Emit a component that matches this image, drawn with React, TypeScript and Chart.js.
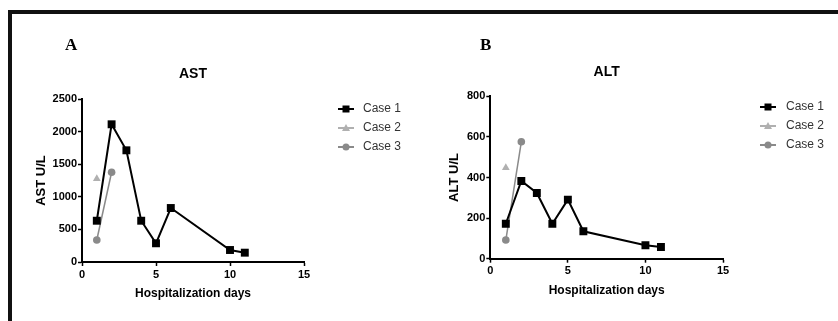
import React, { useEffect, useRef } from 'react';
import { Chart, registerables } from 'chart.js';

Chart.register(...registerables);

// ---- Data ----
const caseLabels = ['Case 1', 'Case 2', 'Case 3'];
const daysCase1 = [1, 2, 3, 4, 5, 6, 10, 11];
const daysCase2 = [1];
const daysCase3 = [1, 2];

const astCase1 = [633, 2112, 1713, 633, 287, 828, 184, 143];
const astCase2 = [1278];
const astCase3 = [337, 1376];

const altCase1 = [172, 383, 324, 172, 291, 135, 66, 58];
const altCase2 = [448];
const altCase3 = [92, 576];

const xTicks = [0, 5, 10, 15];
const astTicks = [0, 500, 1000, 1500, 2000, 2500];
const altTicks = [0, 200, 400, 600, 800];

const caseColors = ['#000000', '#b0b0b0', '#8a8a8a'];
const caseStyles = ['rect', 'triangle', 'circle'];

const FONT = "'Liberation Sans', Arial, sans-serif";

function drawMarker(ctx: CanvasRenderingContext2D, style: string, x: number, y: number, color: string) {
  ctx.fillStyle = color;
  ctx.beginPath();
  if (style === 'rect') {
    ctx.rect(x - 3.5, y - 3.5, 7, 7);
  } else if (style === 'triangle') {
    ctx.moveTo(x, y - 4);
    ctx.lineTo(x + 4, y + 3);
    ctx.lineTo(x - 4, y + 3);
    ctx.closePath();
  } else {
    ctx.arc(x, y, 3.5, 0, Math.PI * 2);
  }
  ctx.fill();
}

function legendPlugin(x0: number, xText: number, y0: number, dy: number) {
  return {
    id: 'caseLegend',
    afterDraw(chart: any) {
      const ctx = chart.ctx as CanvasRenderingContext2D;
      chart.data.datasets.forEach((ds: any, i: number) => {
        const y = y0 + i * dy;
        ctx.save();
        ctx.strokeStyle = caseColors[i];
        ctx.lineWidth = 2;
        ctx.beginPath();
        ctx.moveTo(x0, y);
        ctx.lineTo(x0 + 16, y);
        ctx.stroke();
        drawMarker(ctx, caseStyles[i], x0 + 8, y, caseColors[i]);
        ctx.fillStyle = '#333333';
        ctx.font = `12px ${FONT}`;
        ctx.textBaseline = 'middle';
        ctx.textAlign = 'left';
        ctx.fillText(ds.label, xText, y);
        ctx.restore();
      });
    },
  };
}

type PanelSpec = {
  title: string;
  yTitle: string;
  c1: number[];
  c2: number[];
  c3: number[];
  yTicks: number[];
  padL: number;
  padT: number;
  padB: number;
  titleGap: number;
  yW: number;
  xH: number;
  legend: [number, number, number, number];
};

function makeConfig(p: PanelSpec): any {
  const pts = (xs: number[], ys: number[]) => xs.map((x, i) => ({ x, y: ys[i] }));
  return {
    type: 'line',
    data: {
      datasets: [
        {
          label: caseLabels[0],
          data: pts(daysCase1, p.c1),
          borderColor: caseColors[0],
          backgroundColor: caseColors[0],
          borderWidth: 2,
          pointStyle: caseStyles[0],
          pointRadius: 5.6,
          pointBorderWidth: 0,
        },
        {
          label: caseLabels[1],
          data: pts(daysCase2, p.c2),
          borderColor: caseColors[1],
          backgroundColor: caseColors[1],
          borderWidth: 1.5,
          pointStyle: caseStyles[1],
          pointRadius: 4.5,
          pointBorderWidth: 0,
        },
        {
          label: caseLabels[2],
          data: pts(daysCase3, p.c3),
          borderColor: caseColors[2],
          backgroundColor: caseColors[2],
          borderWidth: 1.5,
          pointStyle: caseStyles[2],
          pointRadius: 3.8,
          pointBorderWidth: 0,
        },
      ],
    },
    options: {
      responsive: false,
      animation: false,
      events: [],
      layout: { padding: { left: p.padL, right: 115, top: p.padT, bottom: p.padB } },
      plugins: {
        legend: { display: false },
        tooltip: { enabled: false },
        title: {
          display: true,
          text: p.title,
          fullSize: false,
          color: '#000',
          font: { family: FONT, size: 14, weight: 'bold', lineHeight: 1.2 },
          padding: { top: 0, bottom: p.titleGap },
        },
      },
      scales: {
        x: {
          type: 'linear',
          min: 0,
          max: 15,
          afterBuildTicks: (s: any) => {
            s.ticks = xTicks.map((v) => ({ value: v }));
          },
          afterFit: (s: any) => {
            s.height = p.xH;
          },
          grid: {
            display: true,
            drawOnChartArea: false,
            drawTicks: true,
            tickLength: 4,
            tickColor: '#000',
            tickWidth: 1.5,
          },
          border: { display: true, color: '#000', width: 2 },
          ticks: {
            color: '#000',
            font: { family: FONT, size: 11, weight: 'bold' },
            padding: 2,
            maxRotation: 0,
            callback: (v: any) => String(v),
          },
          title: {
            display: true,
            text: 'Hospitalization days',
            color: '#000',
            font: { family: FONT, size: 12, weight: 'bold', lineHeight: 1.2 },
            padding: { top: 4, bottom: 4 },
          },
        },
        y: {
          type: 'linear',
          min: p.yTicks[0],
          max: p.yTicks[p.yTicks.length - 1],
          afterBuildTicks: (s: any) => {
            s.ticks = p.yTicks.map((v) => ({ value: v }));
          },
          afterFit: (s: any) => {
            s.width = p.yW;
          },
          grid: {
            display: true,
            drawOnChartArea: false,
            drawTicks: true,
            tickLength: 4,
            tickColor: '#000',
            tickWidth: 1.5,
          },
          border: { display: true, color: '#000', width: 2 },
          ticks: {
            color: '#000',
            font: { family: FONT, size: 11, weight: 'bold' },
            padding: 1,
            callback: (v: any) => String(v),
          },
          title: {
            display: true,
            text: p.yTitle,
            color: '#000',
            font: { family: FONT, size: 13, weight: 'bold', lineHeight: 1.2 },
            padding: { top: 4, bottom: 4 },
          },
        },
      },
    },
    plugins: [legendPlugin(p.legend[0], p.legend[1], p.legend[2], p.legend[3])],
  };
}

const panelA: PanelSpec = {
  title: 'AST',
  yTitle: 'AST U/L',
  c1: astCase1,
  c2: astCase2,
  c3: astCase3,
  yTicks: astTicks,
  padL: 30,
  padT: 66,
  padB: 16,
  titleGap: 16.2,
  yW: 52,
  xH: 43,
  legend: [338, 363, 109, 19],
};

const panelB: PanelSpec = {
  title: 'ALT',
  yTitle: 'ALT U/L',
  c1: altCase1,
  c2: altCase2,
  c3: altCase3,
  yTicks: altTicks,
  padL: 24,
  padT: 63.3,
  padB: 19.2,
  titleGap: 16.2,
  yW: 47.3,
  xH: 43.1,
  legend: [341, 367, 107, 19],
};

function Panel({ left, spec }: { left: number; spec: PanelSpec }) {
  const ref = useRef<HTMLCanvasElement | null>(null);
  useEffect(() => {
    if (!ref.current) return;
    const chart = new Chart(ref.current, makeConfig(spec));
    return () => chart.destroy();
  }, []);
  return (
    <canvas
      ref={ref}
      width={419}
      height={321}
      style={{ position: 'absolute', left, top: 0, width: 419, height: 321 }}
    />
  );
}

export default function App() {
  const letter: React.CSSProperties = {
    position: 'absolute',
    top: 36.4,
    fontFamily: "'Liberation Serif', 'Times New Roman', serif",
    fontWeight: 'bold',
    fontSize: 17,
    lineHeight: '17px',
    color: '#000',
  };
  return (
    <div
      style={{
        position: 'fixed',
        left: 0,
        top: 0,
        width: 838,
        height: 321,
        background: '#fff',
        overflow: 'hidden',
      }}
    >
      <div
        style={{
          position: 'absolute',
          left: 8,
          top: 10,
          width: 900,
          height: 400,
          borderTop: '4px solid #111',
          borderLeft: '4px solid #111',
        }}
      />
      <Panel left={0} spec={panelA} />
      <Panel left={419} spec={panelB} />
      <div style={{ ...letter, left: 65 }}>A</div>
      <div style={{ ...letter, left: 480 }}>B</div>
    </div>
  );
}
